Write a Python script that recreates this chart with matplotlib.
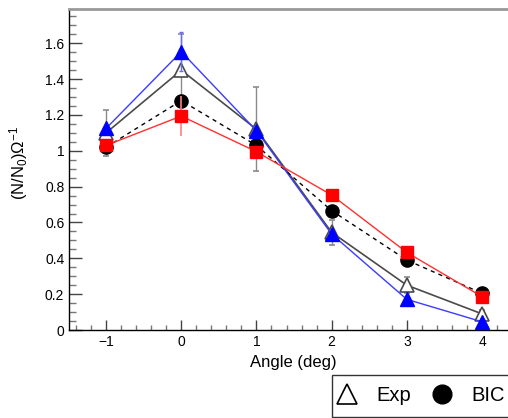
import matplotlib
matplotlib.use("Agg")
import matplotlib.pyplot as plt
from matplotlib.lines import Line2D
from matplotlib.ticker import MultipleLocator
import numpy as np

plt.rcParams['font.family'] = ['Liberation Sans', 'DejaVu Sans']
plt.rcParams['mathtext.fontset'] = 'custom'
plt.rcParams['mathtext.rm'] = 'Liberation Sans'
plt.rcParams['mathtext.it'] = 'Liberation Sans:italic'

# data
angles = [-1, 0, 1, 2, 3, 4]
exp_vals = [1.10, 1.45, 1.12, 0.545, 0.25, 0.09]
exp_errs = [0.13, 0.20, 0.235, 0.07, 0.045, 0.02]
bic_vals = [1.02, 1.28, 1.03, 0.666, 0.39, 0.205]
blue_vals = [1.125, 1.553, 1.112, 0.535, 0.171, 0.046]
blue_errs = [0.0, 0.11, 0.0, 0.0, 0.0, 0.0]
red_vals = [1.03, 1.194, 0.995, 0.753, 0.433, 0.186]
red_errs = [0.0, 0.11, 0.0, 0.0, 0.0, 0.0]
xticks = [-1, 0, 1, 2, 3, 4]
yticks = [0, 0.2, 0.4, 0.6, 0.8, 1, 1.2, 1.4, 1.6]
ytick_labels = ['0', '0.2', '0.4', '0.6', '0.8', '1', '1.2', '1.4', '1.6']

W, H = 508, 418
fig = plt.figure(figsize=(W / 100, H / 100), dpi=100)
left, right, top, bottom = 68.5, 519.6, 8.7, 330
ax = fig.add_axes([left / W, 1 - bottom / H, (right - left) / W, (bottom - top) / H])
ax.set_xlim(-1.5, 4.5)
ax.set_ylim(0, 1.793)

# Exp
ax.errorbar(angles, exp_vals, yerr=exp_errs, color='#4a4a4a', lw=1.2,
            ecolor='#8a8a8a', elinewidth=1, capsize=2, marker='^', ms=10,
            mfc='white', mec='#4a4a4a', mew=1.2, zorder=2)
# BIC
ax.plot(angles, bic_vals, color='black', lw=1, ls=(0, (3, 3)), marker='o',
        ms=9.5, mfc='black', mec='black', zorder=3)
# blue
ax.errorbar(angles, blue_vals, yerr=blue_errs, color='#3b3bff', lw=1,
            ecolor='#6a6aff', elinewidth=1, capsize=1.5, marker='^', ms=9.5,
            mfc='blue', mec='blue', zorder=4)
# red
ax.errorbar(angles, red_vals, yerr=red_errs, color='#ff3030', lw=1,
            ecolor='#ff8080', elinewidth=1.2, capsize=0, marker='s', ms=9,
            mfc='red', mec='red', zorder=5)

ax.set_xticks(xticks)
ax.set_xticklabels(['\u22121', '0', '1', '2', '3', '4'])
ax.set_yticks(yticks)
ax.set_yticklabels(ytick_labels)
ax.xaxis.set_minor_locator(MultipleLocator(0.2))
ax.yaxis.set_minor_locator(MultipleLocator(0.05))
ax.tick_params(axis='y', which='major', direction='in', length=9.5, width=1,
               color='#444', labelsize=10, pad=3)
ax.tick_params(axis='y', which='minor', direction='in', length=5, width=1, color='#777')
ax.tick_params(axis='x', which='major', direction='in', length=7, width=1,
               color='#444', labelsize=10, pad=3.5)
ax.tick_params(axis='x', which='minor', direction='in', length=3.6, width=1, color='#777')

for s in ['left', 'bottom']:
    ax.spines[s].set_color('black')
    ax.spines[s].set_linewidth(1)
ax.spines['top'].set_color('#999999')
ax.spines['top'].set_linewidth(2)
ax.spines['right'].set_visible(False)

ax.set_xlabel('Angle (deg)', fontsize=12)
ax.xaxis.set_label_coords(0.498, -0.078)
ax.set_ylabel(r'(N/N$_{\mathrm{0}}$)$\mathrm{\Omega}^{\mathrm{-1}}$', fontsize=12)
ax.yaxis.set_label_coords(-0.085, 0.52)

handles = [Line2D([], [], ls='none', marker='^', ms=15, mfc='white', mec='black', mew=1.2),
           Line2D([], [], ls='none', marker='o', ms=13.5, mfc='black', mec='black')]
leg = fig.legend(handles, ['Exp', 'BIC'], loc='upper left',
                 bbox_to_anchor=(332 / W, 1 - 375 / H), ncol=2, fontsize=14.5,
                 frameon=True, fancybox=False, edgecolor='black', borderaxespad=0,
                 borderpad=0.57, handlelength=0.33, handletextpad=1.3,
                 columnspacing=1.38)
leg.get_frame().set_linewidth(1)

fig.savefig('out.png', dpi=100)
